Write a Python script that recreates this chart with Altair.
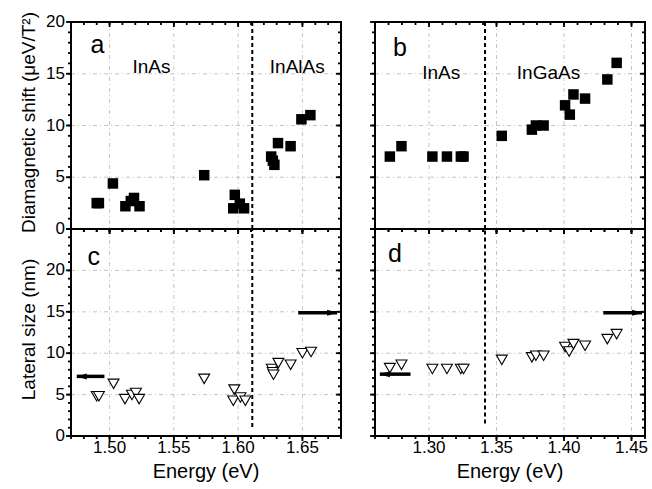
import altair as alt
import pandas as pd

FONT = "Liberation Sans"

# ---------------- data ----------------
# Panel a (InAs / InAlAs): diamagnetic shift
a_energy = [1.4900, 1.4917, 1.5026, 1.5123, 1.5165, 1.5190, 1.5233, 1.5736,
            1.5974, 1.5962, 1.6013, 1.6046, 1.6257, 1.6270, 1.6282, 1.6310,
            1.6408, 1.6492, 1.6562]
a_shift = [2.5, 2.5, 4.4, 2.2, 2.7, 3.0, 2.2, 5.2,
           3.3, 2.0, 2.45, 2.0, 7.0, 6.6, 6.2, 8.3,
           8.0, 10.6, 11.0]

# Panel c (InAs / InAlAs): lateral size
c_energy = [1.4900, 1.4917, 1.5031, 1.5120, 1.5174, 1.5205, 1.5230, 1.5736,
            1.5970, 1.5962, 1.6018, 1.6056, 1.6262, 1.6269, 1.6275, 1.6313,
            1.6408, 1.6500, 1.6567]
c_size = [4.8, 4.8, 6.3, 4.45, 4.95, 5.2, 4.45, 6.9,
          5.6, 4.25, 4.65, 4.25, 8.1, 7.7, 7.4, 8.8,
          8.6, 10.0, 10.15]

# Panel b (InAs / InGaAs): diamagnetic shift
b_energy = [1.2710, 1.2796, 1.3025, 1.3133, 1.3236, 1.3256, 1.3539, 1.3762,
            1.3792, 1.3849, 1.4008, 1.4043, 1.4070, 1.4156, 1.4321, 1.4390]
b_shift = [7.0, 8.0, 7.0, 7.0, 7.0, 7.0, 9.0, 9.6,
           10.0, 10.0, 11.95, 11.05, 13.0, 12.6, 14.45, 16.05]

# Panel d (InAs / InGaAs): lateral size
d_energy = [1.2710, 1.2796, 1.3025, 1.3133, 1.3236, 1.3256, 1.3539, 1.3762,
            1.3792, 1.3849, 1.4008, 1.4038, 1.4070, 1.4156, 1.4321, 1.4390]
d_size = [8.2, 8.6, 8.1, 8.1, 8.1, 8.1, 9.2, 9.5,
          9.7, 9.7, 10.75, 10.2, 11.1, 10.9, 11.7, 12.3]

# separators between the two materials
left_sep = 1.611
right_sep = 1.3415

# axes: domains, major ticks with their labels, minor ticks
left_xdomain = [1.47, 1.68]
right_xdomain = [1.26, 1.46]
left_xmajor = [1.50, 1.55, 1.60, 1.65]
left_xlabels = ["1.50", "1.55", "1.60", "1.65"]
right_xmajor = [1.30, 1.35, 1.40, 1.45]
right_xlabels = ["1.30", "1.35", "1.40", "1.45"]
left_xminor = [round(1.47 + 0.01 * i, 2) for i in range(22)]
right_xminor = [round(1.26 + 0.01 * i, 2) for i in range(21)]
top_ydomain = [0, 20]
bot_ydomain = [0, 25]
top_ymajor = [0, 5, 10, 15, 20]
bot_ymajor = [0, 5, 10, 15, 20, 25]
ylabel_vals = [0, 5, 10, 15, 20]
ylabel_text = ["0", "5", "10", "15", "20"]
top_yminor = list(range(0, 21))
bot_yminor = list(range(0, 26))

# annotations
a_text = ["a", "InAs", "InAlAs"]
a_text_x = [1.4905, 1.5326, 1.6460]
a_text_y = [17.8, 15.7, 15.7]
b_text = ["b", "InAs", "InGaAs"]
b_text_x = [1.2784, 1.3090, 1.3885]
b_text_y = [17.5, 15.1, 15.1]
c_text = ["c"]
c_text_x = [1.4877]
c_text_y = [21.6]
d_text = ["d"]
d_text_x = [1.2747]
d_text_y = [22.0]

# arrows (tail, tip, level, direction)
c_arrow_tail = [1.4960, 1.6467]
c_arrow_tip = [1.4745, 1.6770]
c_arrow_y = [7.2, 14.9]
c_arrow_dir = ["left", "right"]
d_arrow_tail = [1.2863, 1.4291]
d_arrow_tip = [1.2636, 1.4579]
d_arrow_y = [7.47, 14.9]
d_arrow_dir = ["left", "right"]

TOP_TITLE = "Diamagnetic shift (\u03bceV/T\u00b2)"
BOT_TITLE = "Lateral size (nm)"
X_TITLE = "Energy (eV)"

W, H = 270, 207
MAJ, MIN = 5, 3
GRID = dict(strokeDash=[4, 3, 1, 3], color="#b5b5b5", strokeWidth=0.8)


def tick_layer(vals, side, length, xs, ys):
    df = pd.DataFrame({"tick_" + side: vals})
    f = "tick_" + side + ":Q"
    if side == "bottom":      # outward
        enc = dict(x=alt.X(f, scale=xs, axis=None),
                   y=alt.value(H), y2=alt.value(H + length))
    elif side == "top":       # inward
        enc = dict(x=alt.X(f, scale=xs, axis=None),
                   y=alt.value(0), y2=alt.value(length))
    elif side == "left":      # outward
        enc = dict(y=alt.Y(f, scale=ys, axis=None),
                   x=alt.value(-length), x2=alt.value(0))
    else:                     # right, inward
        enc = dict(y=alt.Y(f, scale=ys, axis=None),
                   x=alt.value(W - length), x2=alt.value(W))
    return alt.Chart(df).mark_rule(color="black", strokeWidth=1.8).encode(**enc)


def panel(energy, values, kind, xdom, ydom, xmaj, xlab, xmin, ymaj, ymin,
          show_x, show_y, ytitle, sep, sep_lo, texts, tx, ty,
          arrows=None):
    df = pd.DataFrame({"E": energy, "V": values})
    xs = alt.Scale(domain=xdom, nice=False, zero=False)
    ys = alt.Scale(domain=ydom, nice=False, zero=False)
    base = alt.Chart(df)

    # grid lines at the major ticks
    gx = alt.Chart(pd.DataFrame({"gx": xmaj})).mark_rule(**GRID).encode(
        x=alt.X("gx:Q", scale=xs, axis=None),
        y=alt.value(0), y2=alt.value(H))
    gy = alt.Chart(pd.DataFrame({"gy": [v for v in ymaj
                                       if ydom[0] < v < ydom[1]]})).mark_rule(
        **GRID).encode(
        y=alt.Y("gy:Q", scale=ys, axis=None),
        x=alt.value(0), x2=alt.value(W))

    sep_df = pd.DataFrame({"E": [sep], "y0": [sep_lo], "y1": [ydom[1]]})
    sep_layer = alt.Chart(sep_df).mark_rule(
        strokeDash=[4, 3], strokeWidth=2, color="black").encode(
        x=alt.X("E:Q", scale=xs, axis=None),
        y=alt.Y("y0:Q", scale=ys, axis=None),
        y2="y1:Q",
    )

    if kind == "square":
        pts = base.mark_point(shape="square", filled=True, size=110,
                              color="black", opacity=1)
    else:
        pts = base.mark_point(shape="triangle-down", filled=True,
                              fill="white", stroke="black", strokeWidth=1.1,
                              size=120, opacity=1)
    pts = pts.encode(x=alt.X("E:Q", scale=xs, axis=None),
                     y=alt.Y("V:Q", scale=ys, axis=None))

    tdf = pd.DataFrame({"t": texts, "E": tx, "V": ty})
    letters = alt.Chart(tdf.iloc[:1]).mark_text(
        font=FONT, fontSize=25, color="black", baseline="middle").encode(
        x=alt.X("E:Q", scale=xs, axis=None),
        y=alt.Y("V:Q", scale=ys, axis=None), text="t:N")
    layers = [gx, gy, sep_layer, pts, letters]
    if len(texts) > 1:
        labels = alt.Chart(tdf.iloc[1:]).mark_text(
            font=FONT, fontSize=19, color="black", baseline="middle").encode(
            x=alt.X("E:Q", scale=xs, axis=None),
            y=alt.Y("V:Q", scale=ys, axis=None), text="t:N")
        layers.append(labels)

    if arrows is not None:
        tail, tip, lvl, dirs = arrows
        adf = pd.DataFrame({"tail": tail, "tip": tip, "V": lvl, "d": dirs})
        shaft = alt.Chart(adf).mark_rule(strokeWidth=3.5, color="black").encode(
            x=alt.X("tail:Q", scale=xs, axis=None), x2="tip:Q",
            y=alt.Y("V:Q", scale=ys, axis=None))
        layers.append(shaft)
        for d, path, off in [("left", "M-1,0L1,-0.6L1,0.6Z", 5),
                             ("right", "M1,0L-1,-0.6L-1,0.6Z", -5)]:
            head = alt.Chart(adf[adf["d"] == d]).mark_point(
                shape=path, filled=True, color="black", size=100,
                opacity=1, xOffset=off).encode(
                x=alt.X("tip:Q", scale=xs, axis=None),
                y=alt.Y("V:Q", scale=ys, axis=None))
            layers.append(head)

    layers += [
        tick_layer(xmaj, "bottom", MAJ, xs, ys),
        tick_layer(xmin, "bottom", MIN, xs, ys),
        tick_layer(xmaj, "top", MAJ, xs, ys),
        tick_layer(xmin, "top", MIN, xs, ys),
        tick_layer(ymaj, "left", MAJ, xs, ys),
        tick_layer(ymin, "left", MIN, xs, ys),
        tick_layer(ymaj, "right", MAJ, xs, ys),
        tick_layer(ymin, "right", MIN, xs, ys),
    ]

    frame = alt.Chart(pd.DataFrame({"f": [0]})).mark_rect(
        fillOpacity=0, stroke="black", strokeWidth=2).encode(
        x=alt.value(0), x2=alt.value(W), y=alt.value(0), y2=alt.value(H))
    layers.append(frame)

    if show_x:
        xl = alt.Chart(pd.DataFrame({"xl": xmaj, "t": xlab})).mark_text(
            font=FONT, fontSize=17, color="black", align="center",
            baseline="alphabetic").encode(
            x=alt.X("xl:Q", scale=xs, axis=None), y=alt.value(H + 17),
            text="t:N")
        xt = alt.Chart(pd.DataFrame({"t": [X_TITLE]})).mark_text(
            font=FONT, fontSize=20, color="black", align="center",
            baseline="alphabetic").encode(
            x=alt.value(W / 2), y=alt.value(H + 42), text="t:N")
        layers += [xl, xt]
    if show_y:
        yl = alt.Chart(pd.DataFrame({"yl": ylabel_vals, "t": ylabel_text})).mark_text(
            font=FONT, fontSize=17, color="black", align="right",
            baseline="middle").encode(
            y=alt.Y("yl:Q", scale=ys, axis=None), x=alt.value(-6),
            text="t:N")
        yt = alt.Chart(pd.DataFrame({"t": [ytitle]})).mark_text(
            font=FONT, fontSize=19, color="black", align="center",
            baseline="alphabetic", angle=270).encode(
            x=alt.value(-36), y=alt.value(H / 2 - 3), text="t:N")
        layers += [yl, yt]

    return alt.layer(*layers).properties(width=W, height=H)


pa = panel(a_energy, a_shift, "square", left_xdomain, top_ydomain,
           left_xmajor, left_xlabels, left_xminor, top_ymajor, top_yminor,
           False, True, TOP_TITLE, left_sep, 0, a_text, a_text_x, a_text_y)
pb = panel(b_energy, b_shift, "square", right_xdomain, top_ydomain,
           right_xmajor, right_xlabels, right_xminor, top_ymajor, top_yminor,
           False, False, TOP_TITLE, right_sep, 0, b_text, b_text_x, b_text_y)
pc = panel(c_energy, c_size, "triangle", left_xdomain, bot_ydomain,
           left_xmajor, left_xlabels, left_xminor, bot_ymajor, bot_yminor,
           True, True, BOT_TITLE, left_sep, 1.1, c_text, c_text_x, c_text_y,
           arrows=(c_arrow_tail, c_arrow_tip, c_arrow_y, c_arrow_dir))
pd_ = panel(d_energy, d_size, "triangle", right_xdomain, bot_ydomain,
            right_xmajor, right_xlabels, right_xminor, bot_ymajor, bot_yminor,
            True, False, BOT_TITLE, right_sep, 1.5, d_text, d_text_x, d_text_y,
            arrows=(d_arrow_tail, d_arrow_tip, d_arrow_y, d_arrow_dir))

chart = alt.concat(pa, pb, pc, pd_, columns=2,
                   spacing={"row": 0, "column": 34}, bounds="flush").properties(
    padding={"left": 18, "top": 10, "right": 0, "bottom": 0},
    background="white",
).configure_view(stroke="black", strokeWidth=2)

chart.save("out.html", embed_options={"renderer": "svg", "actions": False})
